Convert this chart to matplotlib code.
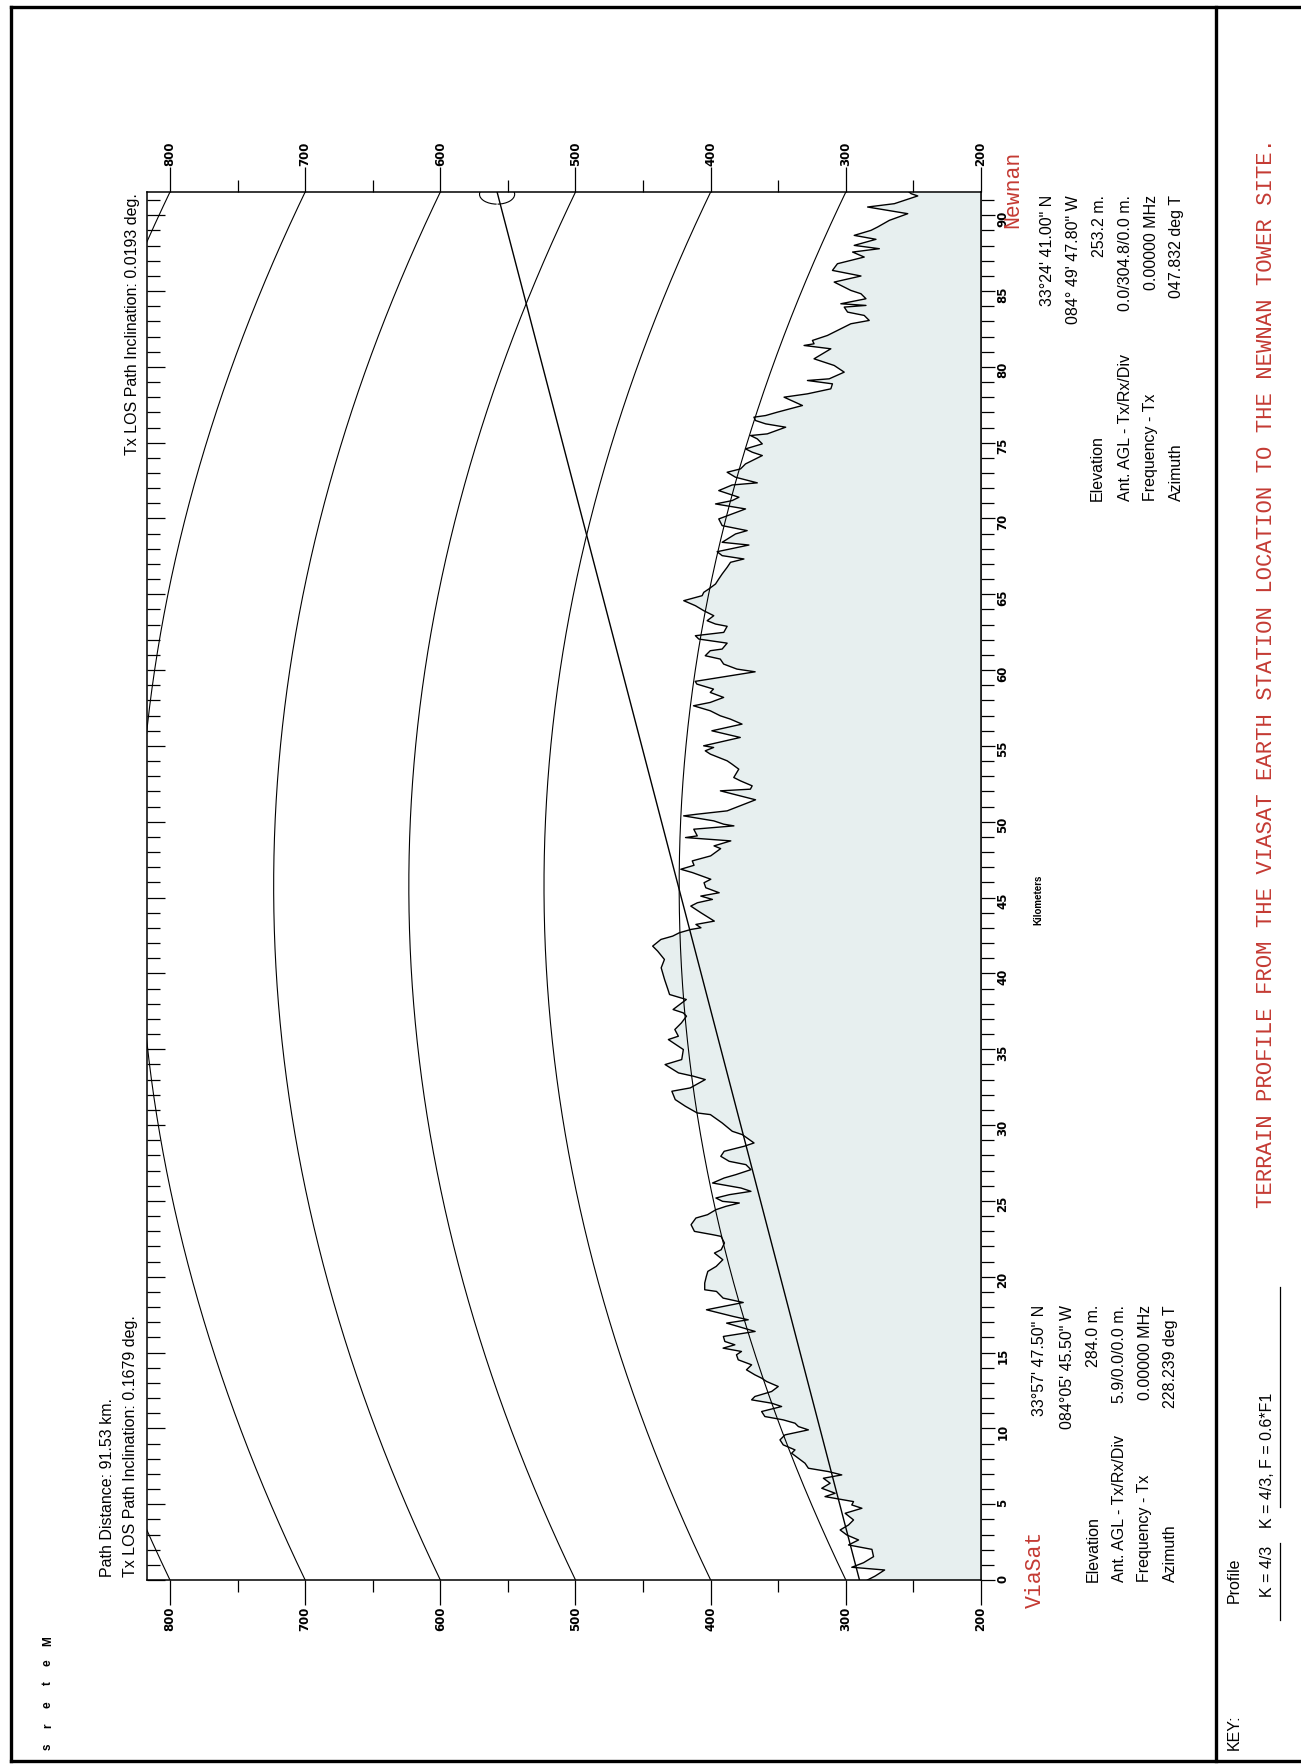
import matplotlib
matplotlib.use("Agg")
import matplotlib.pyplot as plt
from matplotlib.lines import Line2D
from matplotlib.patches import Arc
import numpy as np

W, H = 1301, 1764

# Path parameters (from the chart annotations)
PATH_KM = 91.53
K_FACTOR = 4 / 3
TX_ELEV = 284.0
TX_ANT = 5.9
RX_ELEV = 253.2
RX_ANT = 304.8

GRID_LEVELS = [300, 400, 500, 600, 700, 800]

# Terrain profile as plotted (distance km, elevation m)
DIST_KM = [
    0.00, 0.26, 0.66, 0.84, 1.14, 1.54, 2.02, 2.31, 2.64, 2.97, 3.30, 3.63, 3.96,
    4.40, 4.73, 4.95, 5.17, 5.50, 5.72, 6.05, 6.38, 6.71, 6.93, 7.15, 7.37, 7.70,
    8.03, 8.36, 8.58, 8.91, 9.24, 9.57, 9.90, 10.12, 10.34, 10.56, 10.78, 11.11,
    11.44, 11.66, 11.88, 12.10, 12.43, 12.76, 13.09, 13.31, 13.53, 13.86, 14.19,
    14.52, 14.85, 15.07, 15.29, 15.51, 15.73,
    16.06, 16.39, 16.94, 17.16, 17.38, 17.82, 18.30, 18.59, 19.03, 19.14, 19.58,
    20.02, 20.35, 20.68, 21.12, 21.56, 21.78, 22.22, 22.66, 22.77, 22.99, 23.43,
    23.87, 24.09, 24.42, 24.64, 24.86, 24.97, 25.19, 25.41, 25.63, 25.85, 26.18,
    26.51, 26.73, 27.06, 27.39, 27.61, 27.94, 28.27, 28.60, 28.82, 29.37, 29.59,
    30.14, 30.69, 30.80,
    31.24, 31.68, 32.23, 32.45, 33.00, 33.22, 33.44, 33.99, 34.32, 34.98, 35.42,
    35.64, 35.86, 36.30, 36.74, 37.18, 37.40, 37.62, 38.28, 38.61, 38.94, 39.60,
    40.37, 40.92, 41.47, 41.80, 42.24, 42.46, 42.68, 42.90, 43.01, 43.23, 43.45,
    44.00, 44.44, 44.66, 44.88, 45.10, 45.32, 45.65, 45.98,
    46.21, 46.65, 46.87, 47.13, 47.42, 47.75, 48.23, 48.41, 48.74, 48.96, 49.07,
    49.51, 49.73, 49.84, 50.06, 50.39, 50.50, 50.72, 51.45, 52.04, 52.15, 52.37,
    52.70, 52.92, 53.47, 53.80, 54.02, 54.24, 54.46, 54.68, 54.90, 55.01, 55.56,
    56.00, 56.44, 56.77, 56.99, 57.32, 57.65, 57.87, 58.20, 58.53, 58.75, 59.08,
    59.26, 59.89, 60.07, 60.40, 60.73, 60.95, 61.28,
    61.39, 61.78, 62.05, 62.27, 62.49, 62.89, 63.04, 63.26, 63.59, 63.92, 64.25,
    64.58, 64.91, 65.13, 65.35, 65.68, 66.01, 66.34, 66.78, 67.11, 67.33, 67.55,
    67.81, 68.25, 68.43, 68.98, 69.20, 69.53, 69.97, 70.63, 70.96, 71.18, 71.40,
    71.84, 72.21, 72.35, 72.72, 73.05, 73.27, 73.60, 74.15, 74.37, 74.59, 74.92,
    75.25, 75.47, 75.58, 76.02, 76.24, 76.46,
    76.68, 76.79, 77.01, 77.45, 78.00, 78.22, 78.55, 78.88, 79.10, 79.21, 79.65,
    80.09, 80.53, 80.86, 81.19, 81.41, 81.52, 81.74, 82.07, 82.84, 83.06, 83.39,
    83.61, 83.94, 84.05, 84.16, 84.49, 84.82, 85.04, 85.37, 85.59, 85.99, 86.36,
    86.80, 87.24, 87.57, 87.79, 88.01, 88.41, 88.67, 89.00, 89.22, 89.66, 90.10,
    90.54, 90.76, 91.27, 91.42, 91.53,
]
ELEV_M = [
    284.0, 278.3, 271.3, 295.6, 286.9, 279.5, 280.7, 298.0, 290.6, 299.3, 304.2, 298.0, 294.3,
    300.5, 288.1, 295.6, 294.3, 315.4, 307.9, 317.8, 311.6, 316.6, 303.0, 312.9, 327.7, 330.2,
    335.1, 340.1, 337.6, 346.3, 348.7, 345.0, 327.7, 335.1, 337.6, 346.3, 359.9, 362.3,
    347.5, 354.9, 369.7, 367.3, 354.9, 350.0, 358.6, 362.3, 367.3, 373.5, 369.7,
    379.6, 380.9, 377.2, 390.8, 382.1, 389.5,
    390.6, 367.1, 388.2, 372.2, 383.3, 403.1, 375.9, 390.8, 395.7, 404.4, 404.4,
    403.2, 402.1, 395.9, 391.0, 397.2, 392.2, 389.8, 392.3, 398.4, 412.0, 414.5,
    410.9, 402.3, 396.1, 388.7, 378.8, 391.2, 396.1, 386.2, 370.2, 377.6, 398.6,
    390.0, 381.4, 370.2, 373.9, 386.3, 392.5, 390.0, 375.3, 367.9, 376.6, 384.0,
    391.5, 400.2, 410.0,
    418.7, 426.2, 428.7, 415.1, 404.0, 412.7, 423.8, 433.7, 421.4, 420.2, 427.6,
    431.3, 423.9, 426.5, 421.6, 417.9, 420.3, 427.8, 418.0, 430.4, 431.6, 434.1,
    436.6, 434.2, 439.2, 442.9, 436.8, 428.1, 423.2, 414.6, 407.2, 410.9, 397.3,
    407.2, 414.7, 409.8, 398.7, 407.3, 393.7, 403.6, 404.9,
    399.9, 413.5, 422.1, 412.3, 413.6, 400.0, 392.6, 397.5, 385.1, 418.6, 409.9,
    412.5, 382.8, 390.3, 397.7, 420.0, 410.1, 387.8, 366.8, 392.8, 370.6, 369.3,
    378.0, 382.9, 379.2, 384.2, 387.8, 394.0, 400.2, 404.0, 397.8, 405.2, 378.1,
    399.1, 376.8, 385.4, 392.9, 400.3, 412.7, 400.3, 390.4, 400.3, 397.9, 410.2,
    411.4, 367.1, 380.6, 390.4, 392.9, 404.0, 400.3,
    391.5, 387.8, 408.8, 411.3, 390.3, 387.8, 396.4, 402.6, 397.7, 405.1, 411.3,
    419.9, 406.3, 405.1, 401.4, 396.4, 394.0, 391.5, 387.8, 385.3, 375.4, 391.5,
    395.2, 371.7, 391.5, 381.6, 373.0, 391.5, 394.0, 374.2, 396.4, 384.1, 379.1,
    394.0, 384.1, 365.5, 381.6, 387.8, 377.9, 374.2, 361.8, 369.2, 374.2, 361.8,
    365.5, 370.5, 358.1, 344.5, 359.3, 366.8,
    368.0, 359.3, 350.7, 332.1, 345.7, 328.4, 311.1, 309.9, 328.4, 312.3, 301.2,
    308.6, 323.5, 317.3, 311.1, 330.9, 323.5, 324.7, 313.6, 296.3, 282.7, 286.4,
    298.7, 301.2, 285.1, 303.7, 285.1, 288.8, 296.3, 303.7, 308.6, 288.8, 309.9,
    306.2, 286.4, 295.0, 275.2, 293.8, 277.7, 293.8, 281.4, 276.5, 267.8, 254.2,
    283.9, 264.1, 246.8, 251.7, 253.2,
]

TX_INFO = ["33\u00b057' 47.50\" N", "084\u00b005' 45.50\" W", "284.0 m.",
           "5.9/0.0/0.0 m.", "0.00000 MHz", "228.239 deg T"]
RX_INFO = ["33\u00b024' 41.00\" N", "084\u00b0 49' 47.80\" W", "253.2 m.",
           "0.0/304.8/0.0 m.", "0.00000 MHz", "047.832 deg T"]
INFO_LABELS = ["Elevation", "Ant. AGL - Tx/Rx/Div", "Frequency - Tx", "Azimuth"]

NARROW = ["Liberation Sans Narrow", "Liberation Sans", "DejaVu Sans"]
MONO = ["Liberation Mono", "DejaVu Sans Mono"]
RED = "#c43a33"
FILL = "#e7efef"


def fx(x):
    return x / W


def fy(y):
    return 1 - y / H


def vtext(x, y, s, va="bottom", **kw):
    # all text on this sheet is rotated a quarter turn
    kw.setdefault("family", NARROW)
    kw.setdefault("size", 11.5)
    fig.text(fx(x), fy(y), s, rotation=90, ha="center", va=va, **kw)


fig = plt.figure(figsize=(W / 100, H / 100), dpi=100)
fig.patch.set_facecolor("white")

ax = fig.add_axes([fx(147), fy(1580), (981 - 147) / W, (1580 - 192) / H])
ax.set_xlim(817, 200)
ax.set_ylim(0, PATH_KM)

dist = np.array(DIST_KM)
elev = np.array(ELEV_M)
ax.fill_betweenx(dist, elev, 200, color=FILL, lw=0, zorder=1)
ax.plot(elev, dist, color="black", lw=1.0, zorder=4)

# curved-earth elevation grid (K = 4/3)
d = np.linspace(0, PATH_KM, 300)
bulge = d * (PATH_KM - d) / (12.74 * K_FACTOR)
for lev in GRID_LEVELS:
    ax.plot(lev + bulge, d, color="black", lw=0.8, zorder=3)

# line of sight Tx antenna -> Rx antenna
ax.plot([TX_ELEV + TX_ANT, RX_ELEV + RX_ANT], [0, PATH_KM], color="black", lw=1.0, zorder=5)
for t1, t2 in [(100, 242), (298, 440)]:
    ax.add_patch(Arc((RX_ELEV + RX_ANT, PATH_KM - 0.15), 26, 1.3, theta1=t1, theta2=t2,
                     color="black", lw=0.8, zorder=5))

for sp in ax.spines.values():
    sp.set_linewidth(1.1)

ax.set_xticks(range(200, 801, 100))
ax.set_xticks(range(250, 800, 100), minor=True)
ax.tick_params(axis="x", which="major", direction="out", length=18, width=0.9,
               top=True, labeltop=True, labelsize=8.5, labelrotation=90, pad=1)
ax.tick_params(axis="x", which="minor", direction="out", length=8.5, width=0.9, top=True)
for t in ax.xaxis.get_major_ticks():
    t.label1.set_fontweight("bold")
    t.label2.set_fontweight("bold")

ax.set_yticks(range(0, 91, 5))
ax.set_yticks(range(0, 92), minor=True)
ax.tick_params(axis="y", which="major", direction="in", length=13, width=0.9,
               left=True, right=False, labelleft=False)
ax.tick_params(axis="y", which="minor", direction="in", length=9.4, width=0.9,
               left=True, right=False)

sec = ax.secondary_yaxis("right")
sec.set_yticks(range(0, 91, 5))
sec.set_yticks(range(0, 92), minor=True)
sec.tick_params(which="major", direction="out", length=10, width=0.9,
                labelsize=8.5, labelrotation=90, pad=1)
sec.tick_params(which="minor", direction="out", length=9.4, width=0.9)
sec.spines["right"].set_linewidth(1.1)
for t in sec.yaxis.get_major_ticks():
    t.label2.set_fontweight("bold")

vtext(1038, 900, "Kilometers", va="center", family="Liberation Sans", size=7, weight="bold")
for i, ch in enumerate("Meters"):
    vtext(48, 1641 + i * 21.2, ch, va="center", family="Liberation Sans", size=8.5, weight="bold")

vtext(108, 1577, "Path Distance: 91.53 km.")
vtext(130, 1577, "Tx LOS Path Inclination: 0.1679 deg.")
vtext(133, 193, "Tx LOS Path Inclination: 0.0193 deg.", va="top")

# site blocks
vtext(1035, 1608, "ViaSat", family=MONO, size=15.5, color=RED)
vtext(1013, 228, "Newnan", family=MONO, size=15.5, color=RED)
for x, s in zip([1040, 1067, 1093, 1120, 1145, 1170], TX_INFO):
    vtext(x, 1305, s, va="top")
for x, s in zip([1093, 1120, 1145, 1170], INFO_LABELS):
    vtext(x, 1582, s)
for x, s in zip([1047, 1073, 1100, 1125, 1152, 1177], RX_INFO):
    vtext(x, 195, s, va="top")
for x, s in zip([1097, 1125, 1150, 1176], INFO_LABELS):
    vtext(x, 501, s)

# key strip
vtext(1234, 1750, "KEY:")
vtext(1234, 1603, "Profile")
vtext(1267, 1597, "K = 4/3")
vtext(1267, 1528, "K = 4/3, F = 0.6*F1")
vtext(1266, 673, "TERRAIN PROFILE FROM THE VIASAT EARTH STATION LOCATION TO THE NEWNAN TOWER SITE.",
      va="center", family=MONO, size=16, color=RED)
for y0, y1 in [(1543, 1620), (1287, 1507)]:
    fig.add_artist(Line2D([fx(1280), fx(1280)], [fy(y0), fy(y1)], color="black", lw=0.9))

# sheet frame
frame = [((11, 7), (W, 7)), ((11, 7), (11, 1761)), ((11, 1761), (W, 1761)),
         ((1216, 7), (1216, 1761))]
for (x0, y0), (x1, y1) in frame:
    fig.add_artist(Line2D([fx(x0), fx(x1)], [fy(y0), fy(y1)], color="black", lw=2.4))

fig.savefig("out.png", dpi=100, facecolor="white")
